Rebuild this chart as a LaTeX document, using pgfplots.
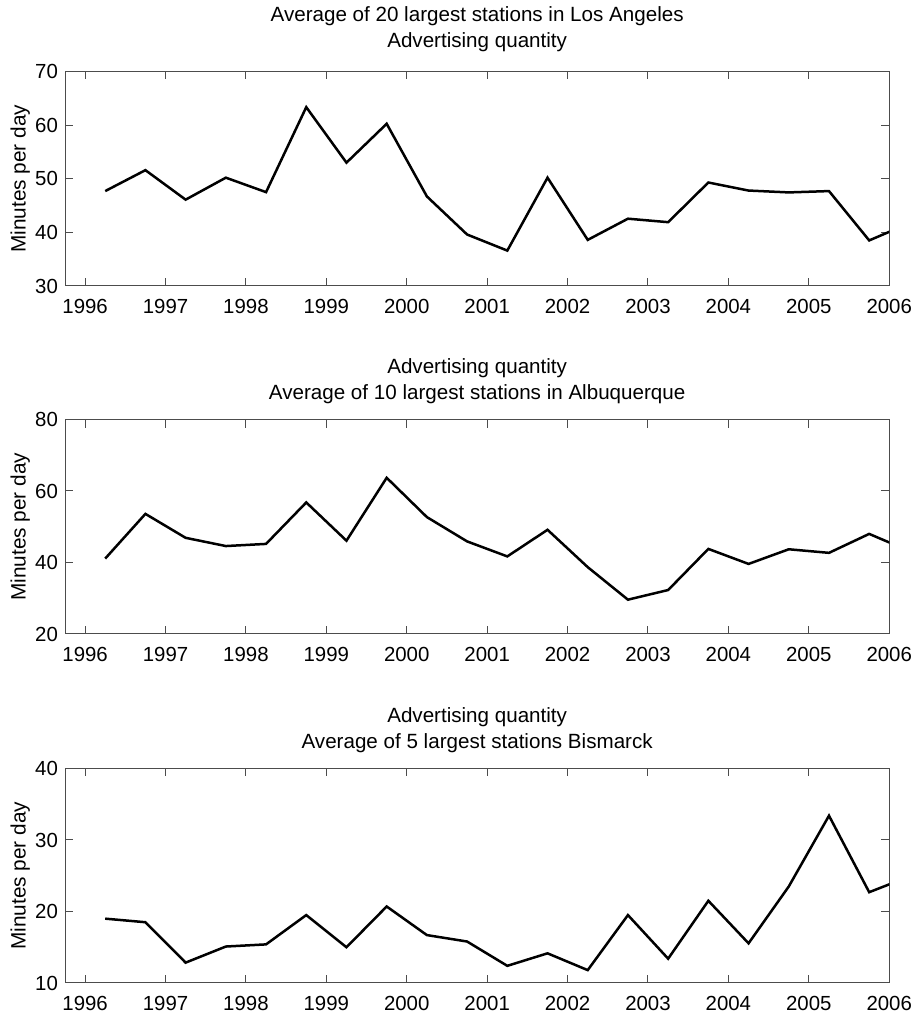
\documentclass[border=0pt]{standalone}
\usepackage{fontspec}
\setmainfont{Liberation Sans}
\usepackage{pgfplots}
\usepackage{pgfplotstable}
\pgfplotsset{compat=1.18}

\pgfplotstableread{
x v
1996.25 47.7
1996.75 51.6
1997.25 46.1
1997.75 50.2
1998.25 47.5
1998.75 63.35
1999.25 53.0
1999.75 60.25
2000.25 46.7
2000.75 39.6
2001.25 36.6
2001.75 50.2
2002.25 38.6
2002.75 42.55
2003.25 41.9
2003.75 49.3
2004.25 47.8
2004.75 47.45
2005.25 47.7
2005.75 38.5
2006.25 41.7
}\tabLA

\pgfplotstableread{
x v
1996.25 41.1
1996.75 53.6
1997.25 46.9
1997.75 44.6
1998.25 45.2
1998.75 56.8
1999.25 46.1
1999.75 63.7
2000.25 52.7
2000.75 45.9
2001.25 41.7
2001.75 49.15
2002.25 38.7
2002.75 29.6
2003.25 32.3
2003.75 43.8
2004.25 39.6
2004.75 43.7
2005.25 42.7
2005.75 48.0
2006.25 43.2
}\tabAL

\pgfplotstableread{
x v
1996.25 19.0
1996.75 18.5
1997.25 12.85
1997.75 15.1
1998.25 15.4
1998.75 19.5
1999.25 15.0
1999.75 20.7
2000.25 16.7
2000.75 15.8
2001.25 12.4
2001.75 14.15
2002.25 11.8
2002.75 19.5
2003.25 13.4
2003.75 21.5
2004.25 15.55
2004.75 23.5
2005.25 33.4
2005.75 22.7
2006.25 24.9
}\tabBI

\pgfplotsset{
 mystyle/.style={
  scale only axis, width=412.15pt, height=107.25pt,
  anchor=south west,
  xmin=1995.75, xmax=2006,
  xtick={1996,...,2006},
  /pgf/number format/1000 sep={},
  /pgf/number format/assume math mode=true,
  tick align=inside, major tick length=4pt,
  tick style={black!70, line width=0.5pt},
  axis line style={black!70, line width=0.5pt},
  font=\fontsize{10.2}{13}\selectfont,
  ticklabel style={font=\fontsize{10.2}{12}\selectfont},
  xticklabel style={yshift=-3pt},
  title style={align=center, at={(0.5,1)}, anchor=south, inner sep=0pt, font=\fontsize{10.3}{13}\selectfont},
  ylabel={Minutes per day},
  ylabel style={at={(axis description cs:-0.042,0.5)}, anchor=south, inner sep=0pt, font=\fontsize{10.4}{12}\selectfont},
 },
 myline/.style={black, line width=1.25pt, mark=none, line join=miter},
}

\begin{document}
\begin{tikzpicture}
\useasboundingbox (0,0) rectangle (458.5pt,508.5pt);
\begin{axis}[mystyle, at={(32.5pt,365.5pt)},
  ymin=30, ymax=70, ytick={30,40,...,70},
  title style={yshift=3.5pt},
  title={Average of 20 largest stations in Los Angeles\\Advertising quantity}]
\addplot[myline] table[x=x,y=v] {\tabLA};
\end{axis}
\begin{axis}[mystyle, at={(32.5pt,191.5pt)},
  ymin=20, ymax=80, ytick={20,40,...,80},
  title style={yshift=1.5pt},
  title={Advertising quantity\\Average of 10 largest stations in Albuquerque}]
\addplot[myline] table[x=x,y=v] {\tabAL};
\end{axis}
\begin{axis}[mystyle, at={(32.5pt,17pt)},
  ymin=10, ymax=40, ytick={10,20,...,40},
  title style={yshift=1.75pt},
  title={Advertising quantity\\Average of 5 largest stations Bismarck}]
\addplot[myline] table[x=x,y=v] {\tabBI};
\end{axis}
\end{tikzpicture}
\end{document}
